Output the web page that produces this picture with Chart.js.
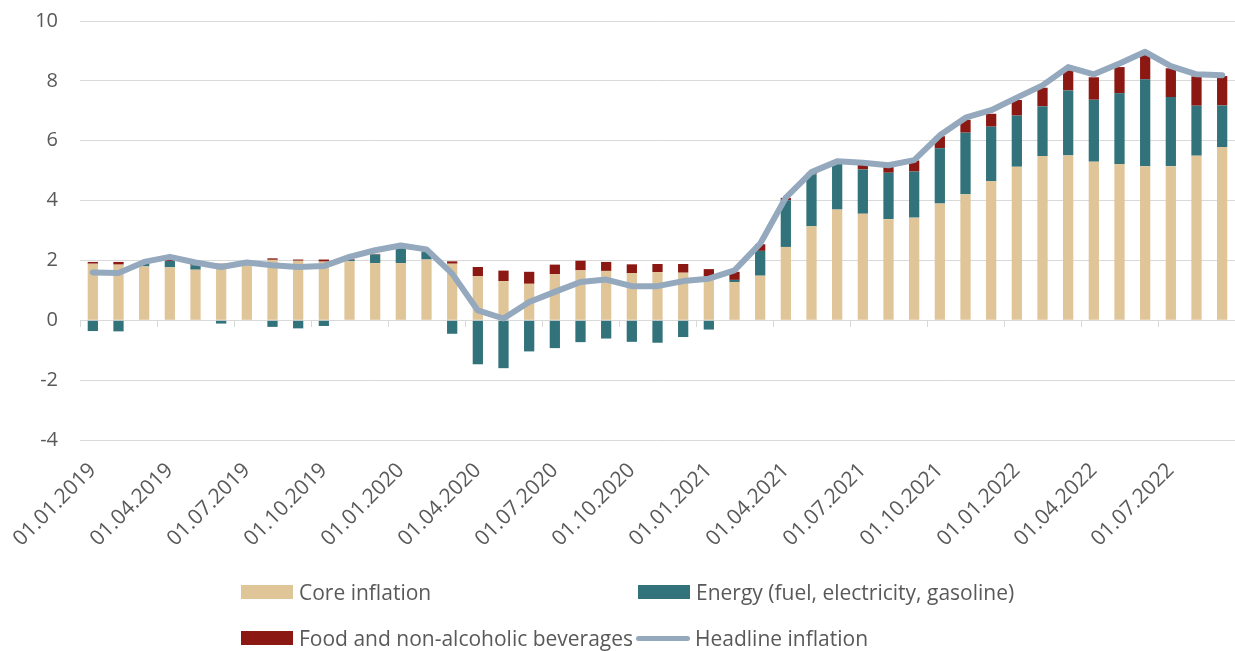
<!DOCTYPE html>
<html>
<head>
<meta charset="utf-8">
<script src="https://cdn.jsdelivr.net/npm/chart.js@4"></script>
<style>
  html, body { margin: 0; padding: 0; background: #ffffff; }
  #wrap { position: relative; width: 1235px; height: 651px; overflow: hidden; }
  #chart { position: absolute; left: 0; top: 0; }
  .lg-item { position: absolute; display: flex; align-items: center; font-family: 'Open Sans', sans-serif; font-size: 21px; color: #595959; white-space: nowrap; }
  .lg-box { display: inline-block; width: 52px; height: 14px; margin-right: 6px; }
  .lg-line { display: inline-block; width: 54px; height: 5px; border-radius: 3px; margin-right: 5px; }
</style>
</head>
<body>
<div id="wrap">
  <canvas id="chart" width="1235" height="651"></canvas>
  <div id="legend"></div>
</div>
<script>
// ---- data ----
const categories = [
  "01.01.2019","01.02.2019","01.03.2019","01.04.2019","01.05.2019","01.06.2019",
  "01.07.2019","01.08.2019","01.09.2019","01.10.2019","01.11.2019","01.12.2019",
  "01.01.2020","01.02.2020","01.03.2020","01.04.2020","01.05.2020","01.06.2020",
  "01.07.2020","01.08.2020","01.09.2020","01.10.2020","01.11.2020","01.12.2020",
  "01.01.2021","01.02.2021","01.03.2021","01.04.2021","01.05.2021","01.06.2021",
  "01.07.2021","01.08.2021","01.09.2021","01.10.2021","01.11.2021","01.12.2021",
  "01.01.2022","01.02.2022","01.03.2022","01.04.2022","01.05.2022","01.06.2022",
  "01.07.2022","01.08.2022","01.09.2022"
];
const coreInflation = [
  1.89,1.86,1.80,1.77,1.69,1.85,1.89,2.02,1.99,1.96,1.97,1.91,
  1.91,2.03,1.89,1.47,1.31,1.22,1.54,1.67,1.65,1.58,1.61,1.59,
  1.45,1.28,1.49,2.45,3.14,3.70,3.56,3.38,3.43,3.90,4.21,4.65,
  5.13,5.49,5.51,5.30,5.22,5.15,5.15,5.50,5.79
];
const energy = [
  -0.36,-0.37,0.10,0.21,0.15,-0.11,0.00,-0.22,-0.27,-0.19,0.05,0.29,
  0.49,0.25,-0.45,-1.47,-1.60,-1.04,-0.93,-0.73,-0.61,-0.72,-0.75,-0.56,
  -0.31,0.07,0.83,1.56,1.74,1.54,1.48,1.55,1.54,1.85,2.06,1.82,
  1.71,1.66,2.17,2.07,2.37,2.90,2.31,1.67,1.39
];
const foodBeverages = [
  0.06,0.09,0.05,0.03,0.04,0.04,0.03,0.05,0.04,0.07,0.02,0.02,
  0.02,0.02,0.08,0.31,0.35,0.40,0.32,0.32,0.30,0.29,0.27,0.29,
  0.26,0.27,0.22,0.08,0.05,0.03,0.16,0.19,0.37,0.40,0.43,0.43,
  0.52,0.62,0.67,0.75,0.87,0.81,0.96,0.98,0.98
];
const headlineInflation = [
  1.60,1.58,1.95,2.12,1.93,1.78,1.93,1.84,1.78,1.81,2.12,2.34,
  2.50,2.37,1.56,0.33,0.06,0.61,0.95,1.28,1.36,1.14,1.14,1.31,
  1.39,1.67,2.56,4.10,4.95,5.31,5.26,5.18,5.35,6.18,6.77,7.02,
  7.44,7.85,8.46,8.22,8.58,8.97,8.49,8.22,8.19
];
const yTicks = [-4, -2, 0, 2, 4, 6, 8, 10];
const seriesNames = ["Core inflation", "Energy (fuel, electricity, gasoline)", "Food and non-alcoholic beverages", "Headline inflation"];

// ---- styles ----
const COL_CORE = '#e0c599';
const COL_ENERGY = '#32727b';
const COL_FOOD = '#8b1812';
const COL_HEAD = '#94a9bd';
const COL_GRID = '#d9d9d9';
const COL_TEXT = '#595959';

Chart.defaults.font.family = "'Open Sans', sans-serif";
Chart.defaults.color = COL_TEXT;

const barCommon = { stack: 'bars', order: 1, barPercentage: 0.4, categoryPercentage: 1.0, borderWidth: 0 };

function noSidePadding(scale) { scale.paddingLeft = 0; scale.paddingRight = 0; }

const chart = new Chart(document.getElementById('chart'), {
  type: 'bar',
  data: {
    labels: categories,
    datasets: [
      Object.assign({ label: seriesNames[0], data: coreInflation, backgroundColor: COL_CORE }, barCommon),
      Object.assign({ label: seriesNames[1], data: energy, backgroundColor: COL_ENERGY }, barCommon),
      Object.assign({ label: seriesNames[2], data: foodBeverages, backgroundColor: COL_FOOD }, barCommon),
      {
        type: 'line', label: seriesNames[3], data: headlineInflation, stack: 'line', order: 0,
        borderColor: COL_HEAD, backgroundColor: COL_HEAD, borderWidth: 6, pointRadius: 0,
        tension: 0, borderJoinStyle: 'round', borderCapStyle: 'round', fill: false
      }
    ]
  },
  options: {
    responsive: false,
    animation: false,
    layout: { padding: { top: 21, left: 0, right: 0, bottom: 91 } },
    plugins: { legend: { display: false }, tooltip: { enabled: false } },
    scales: {
      x: {
        type: 'category',
        stacked: true,
        offset: true,
        grid: { display: false },
        border: { display: false },
        ticks: {
          autoSkip: false, minRotation: 45, maxRotation: 45, padding: 10,
          font: { size: 21 }, color: COL_TEXT,
          callback: function (value, index) { return index % 3 === 0 ? this.getLabelForValue(value) : ''; }
        },
        afterFit: function (scale) { scale.height = 120; noSidePadding(scale); }
      },
      xZero: {
        type: 'category',
        position: { y: 0 },
        offset: true,
        grid: {
          offset: true, drawOnChartArea: false, drawTicks: true, tickLength: 7, lineWidth: 1,
          color: function (ctx) { return ctx.index % 3 === 0 ? COL_GRID : 'rgba(0,0,0,0)'; }
        },
        border: { display: false },
        ticks: { display: false },
        afterFit: noSidePadding
      },
      y: {
        stacked: true,
        min: yTicks[0],
        max: yTicks[yTicks.length - 1],
        afterBuildTicks: function (scale) { scale.ticks = yTicks.map(v => ({ value: v })); },
        grid: { color: COL_GRID, lineWidth: 1, drawTicks: false },
        border: { display: false },
        ticks: { padding: 22, font: { size: 20 }, color: COL_TEXT },
        afterFit: function (scale) { scale.width = 80; scale.paddingTop = 0; scale.paddingBottom = 0; }
      }
    }
  }
});

// ---- HTML legend built from the chart's datasets ----
(function buildLegend() {
  const legend = document.getElementById('legend');
  const slots = [
    { left: 241, top: 592 }, { left: 638, top: 592 },
    { left: 241, top: 638 }, { left: 636, top: 638 }
  ];
  chart.data.datasets.forEach(function (ds, i) {
    const item = document.createElement('div');
    item.className = 'lg-item';
    item.style.left = slots[i].left + 'px';
    item.style.top = (slots[i].top - 15) + 'px';
    item.style.height = '30px';
    const sw = document.createElement('span');
    sw.className = ds.type === 'line' ? 'lg-line' : 'lg-box';
    sw.style.background = ds.type === 'line' ? ds.borderColor : ds.backgroundColor;
    const tx = document.createElement('span');
    tx.textContent = ds.label;
    item.appendChild(sw);
    item.appendChild(tx);
    legend.appendChild(item);
  });
})();
</script>
</body>
</html>
